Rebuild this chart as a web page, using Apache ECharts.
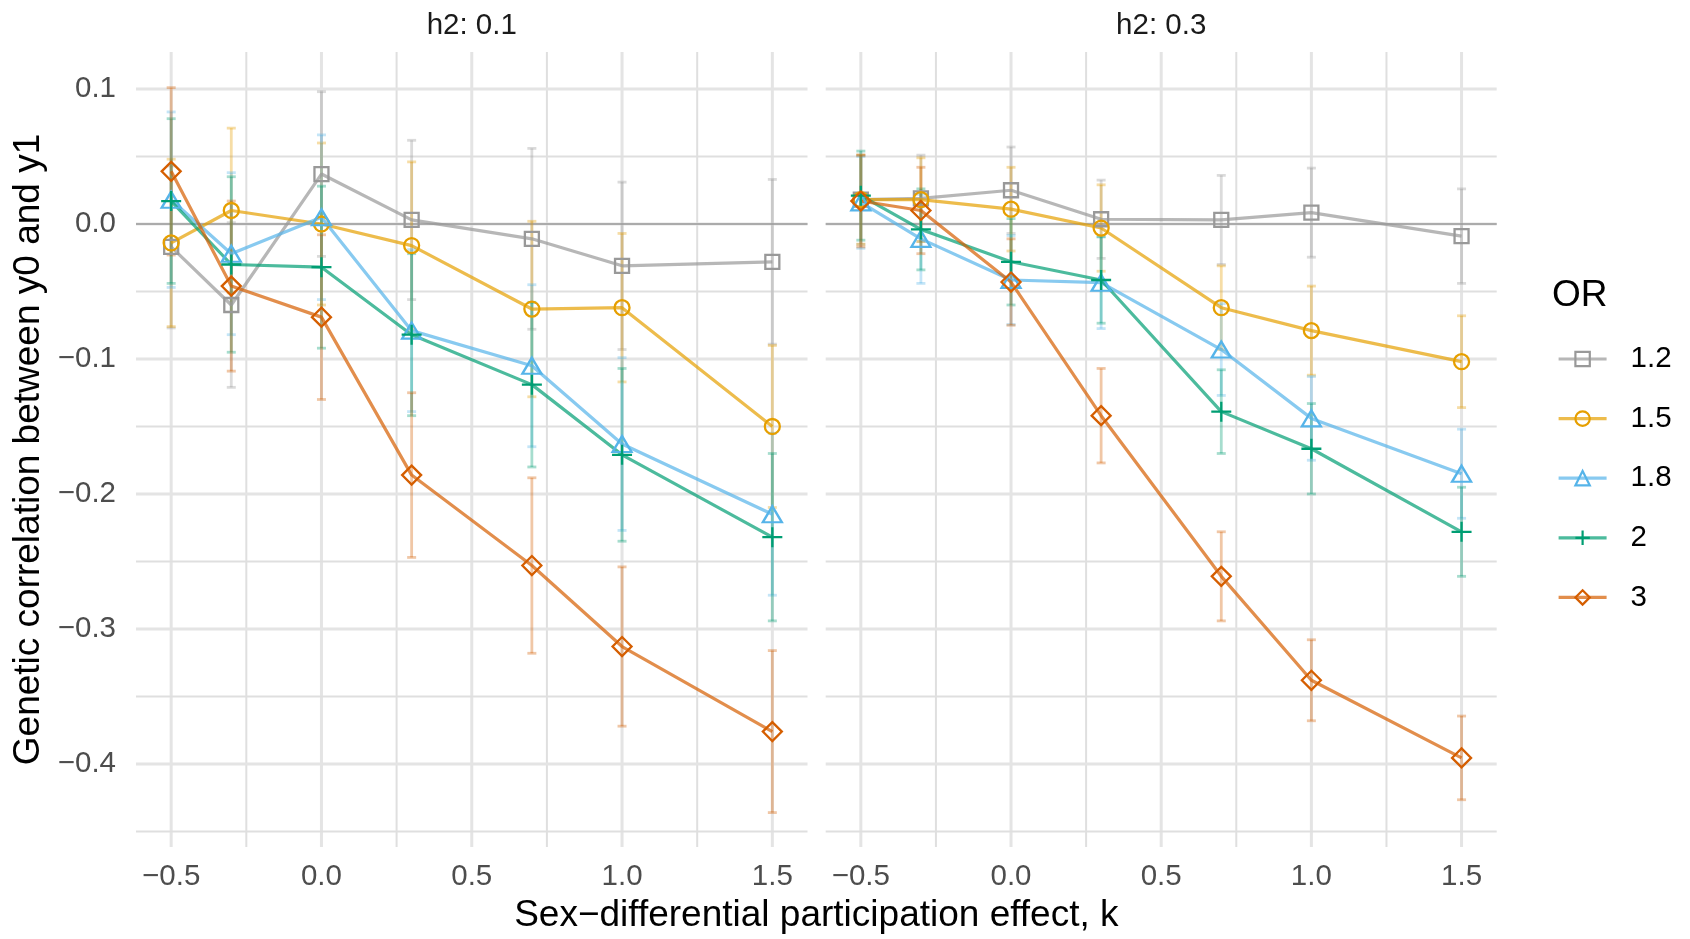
<!DOCTYPE html>
<html><head><meta charset="utf-8">
<script src="https://cdn.jsdelivr.net/npm/echarts@6/dist/echarts.min.js"></script>
<style>html,body{margin:0;padding:0;background:#fff}#c{width:1690px;height:939px}</style>
</head><body><div id="c"></div>
<script>
// ---------------- data ----------------
const kValues = [-0.5, -0.3, 0, 0.3, 0.7, 1.0, 1.5];
const orLevels = ['1.2', '1.5', '1.8', '2', '3'];
const facetTitles = ['h2: 0.1', 'h2: 0.3'];

// facet h2 = 0.1 : mean genetic correlation
const h01_or12 = [-0.017, -0.060, 0.037, 0.003, -0.011, -0.031, -0.028];
const h01_or15 = [-0.014, 0.010, 0.000, -0.016, -0.063, -0.062, -0.150];
const h01_or18 = [0.018, -0.022, 0.005, -0.079, -0.105, -0.163, -0.215];
const h01_or2  = [0.017, -0.030, -0.032, -0.082, -0.119, -0.171, -0.232];
const h01_or3  = [0.039, -0.046, -0.069, -0.186, -0.253, -0.313, -0.376];
// facet h2 = 0.1 : error-bar half widths
const h01_err12 = [0.060, 0.061, 0.061, 0.059, 0.067, 0.062, 0.061];
const h01_err15 = [0.062, 0.061, 0.060, 0.062, 0.065, 0.055, 0.060];
const h01_err18 = [0.065, 0.060, 0.061, 0.060, 0.060, 0.064, 0.060];
const h01_err2  = [0.061, 0.065, 0.060, 0.060, 0.061, 0.064, 0.062];
const h01_err3  = [0.062, 0.063, 0.061, 0.061, 0.065, 0.059, 0.060];

// facet h2 = 0.3 : mean genetic correlation
const h03_or12 = [0.018, 0.019, 0.025, 0.0035, 0.003, 0.0084, -0.009];
const h03_or15 = [0.018, 0.018, 0.011, -0.003, -0.062, -0.079, -0.102];
const h03_or18 = [0.016, -0.011, -0.0415, -0.0435, -0.093, -0.144, -0.185];
const h03_or2  = [0.021, -0.004, -0.028, -0.0415, -0.139, -0.1665, -0.228];
const h03_or3  = [0.017, 0.010, -0.043, -0.142, -0.261, -0.338, -0.3955];
// facet h2 = 0.3 : error-bar half widths
const h03_err12 = [0.033, 0.032, 0.032, 0.029, 0.033, 0.033, 0.035];
const h03_err15 = [0.033, 0.031, 0.031, 0.032, 0.031, 0.033, 0.034];
const h03_err18 = [0.034, 0.033, 0.033, 0.034, 0.034, 0.031, 0.033];
const h03_err2  = [0.033, 0.030, 0.032, 0.032, 0.031, 0.0335, 0.033];
const h03_err3  = [0.034, 0.032, 0.032, 0.035, 0.033, 0.030, 0.031];

// axis ticks / gridlines
const xMajorTicks = [-0.5, 0, 0.5, 1.0, 1.5];
const xMinorTicks = [-0.25, 0.25, 0.75, 1.25];
const yMajorTicks = [-0.4, -0.3, -0.2, -0.1, 0, 0.1];
const yMinorTicks = [-0.45, -0.35, -0.25, -0.15, -0.05, 0.05];
const zeroLine = [0];

const xTitle = 'Sex\u2212differential participation effect, k';
const yTitle = 'Genetic correlation between y0 and y1';
const legendTitle = 'OR';

// ---------------- styling ----------------
const FONT = '"Liberation Sans", Arial, Helvetica, sans-serif';
const colors = ['#999999', '#E69F00', '#56B4E9', '#009E73', '#D55E00'];
const symbols = ['rect', 'circle', 'triangle', 'path://M0,10L20,10M10,0L10,20', 'diamond'];
const symbolSizes = [14, 15, [19, 16], 20, [19, 19]];
function rgba(hex, a) {
  const n = parseInt(hex.slice(1), 16);
  return 'rgba(' + (n >> 16) + ',' + ((n >> 8) & 255) + ',' + (n & 255) + ',' + a + ')';
}
const facets = [
  { title: facetTitles[0], means: [h01_or12, h01_or15, h01_or18, h01_or2, h01_or3],
    errs: [h01_err12, h01_err15, h01_err18, h01_err2, h01_err3] },
  { title: facetTitles[1], means: [h03_or12, h03_or15, h03_or18, h03_or2, h03_or3],
    errs: [h03_err12, h03_err15, h03_err18, h03_err2, h03_err3] }
];
const grids = [
  { left: 136, top: 52, width: 671.5, height: 795 },
  { left: 825.7, top: 52, width: 671, height: 795 }
];
const X_MIN = -0.617, X_MAX = 1.617, Y_MIN = -0.4615, Y_MAX = 0.1274;

function fmt(v) {
  const s = Math.abs(v).toFixed(1);
  return v < -1e-9 ? '\u2212' + s : s;
}

// gridline specs: [value, kind] kind 0 vmajor,1 vminor,2 hmajor,3 hminor
const gridSpecs = [].concat(
  xMinorTicks.map(v => [v, 1]), xMajorTicks.map(v => [v, 0]),
  yMinorTicks.map(v => [v, 3]), yMajorTicks.map(v => [v, 2]));

function gridRender(params, api) {
  const v = api.value(0), kind = api.value(1);
  const cs = params.coordSys;
  const major = (kind === 0 || kind === 2);
  const style = { stroke: major ? '#e4e4e4' : '#dfdfdf', lineWidth: major ? 3 : 2 };
  if (kind < 2) {
    const x = api.coord([v, 0])[0];
    return { type: 'line', shape: { x1: x, y1: cs.y, x2: x, y2: cs.y + cs.height }, style };
  }
  const y = api.coord([0, v])[1];
  return { type: 'line', shape: { x1: cs.x, y1: y, x2: cs.x + cs.width, y2: y }, style };
}
function zeroRender(params, api) {
  const cs = params.coordSys;
  const y = api.coord([0, api.value(0)])[1];
  return { type: 'line', shape: { x1: cs.x, y1: y, x2: cs.x + cs.width, y2: y },
           style: { stroke: '#ababab', lineWidth: 2.2 } };
}
function errRender(color) {
  return function (params, api) {
    const x = api.value(0), lo = api.value(2), hi = api.value(3);
    const p1 = api.coord([x, lo]), p2 = api.coord([x, hi]);
    const c = 4.5;
    const style = { stroke: color, lineWidth: 2.8 };
    return { type: 'group', children: [
      { type: 'line', shape: { x1: p1[0], y1: p1[1], x2: p2[0], y2: p2[1] }, style },
      { type: 'line', shape: { x1: p1[0] - c, y1: p1[1], x2: p1[0] + c, y2: p1[1] }, style },
      { type: 'line', shape: { x1: p2[0] - c, y1: p2[1], x2: p2[0] + c, y2: p2[1] }, style }
    ] };
  };
}

const xAxes = [], yAxes = [], series = [], graphics = [];
facets.forEach((f, gi) => {
  xAxes.push({
    type: 'value', gridIndex: gi, min: X_MIN, max: X_MAX,
    axisLine: { show: false }, axisTick: { show: false }, splitLine: { show: false },
    axisLabel: { customValues: xMajorTicks, formatter: fmt, fontSize: 29.5, color: '#4d4d4d',
                 fontFamily: FONT, margin: 15 }
  });
  yAxes.push({
    type: 'value', gridIndex: gi, min: Y_MIN, max: Y_MAX,
    axisLine: { show: false }, axisTick: { show: false }, splitLine: { show: false },
    axisLabel: { show: gi === 0, customValues: yMajorTicks, formatter: fmt, fontSize: 29.5,
                 color: '#4d4d4d', fontFamily: FONT, margin: 20 }
  });
  series.push({ type: 'custom', name: 'grid' + gi, xAxisIndex: gi, yAxisIndex: gi, z: 1, silent: true,
    clip: false, data: gridSpecs, renderItem: gridRender, animation: false });
  series.push({ type: 'custom', name: 'zero' + gi, xAxisIndex: gi, yAxisIndex: gi, z: 2, silent: true,
    data: zeroLine.map(v => [v]), encode: { y: 0 }, renderItem: zeroRender, animation: false });
  // error bars
  orLevels.forEach((or, si) => {
    series.push({ type: 'custom', name: 'err ' + or + ' ' + gi, xAxisIndex: gi, yAxisIndex: gi, z: 3,
      silent: true, animation: false,
      data: kValues.map((k, j) => [k, f.means[si][j], f.means[si][j] - f.errs[si][j], f.means[si][j] + f.errs[si][j]]),
      encode: { x: 0, y: 1 }, renderItem: errRender(rgba(colors[si], 0.35)) });
  });
  // lines
  orLevels.forEach((or, si) => {
    series.push({ type: 'line', name: or, xAxisIndex: gi, yAxisIndex: gi, z: 4, silent: true,
      animation: false, showSymbol: false, symbol: symbols[si], symbolSize: symbolSizes[si],
      data: kValues.map((k, j) => [k, f.means[si][j]]),
      lineStyle: { color: rgba(colors[si], 0.7), width: 3.2 },
      itemStyle: { color: 'rgba(0,0,0,0)', borderColor: colors[si], borderWidth: 2 },
      emphasis: { disabled: true } });
  });
  // points
  orLevels.forEach((or, si) => {
    series.push({ type: 'scatter', name: or, xAxisIndex: gi, yAxisIndex: gi, z: 5, silent: true,
      animation: false, symbol: symbols[si], symbolSize: symbolSizes[si],
      data: kValues.map((k, j) => [k, f.means[si][j]]),
      itemStyle: { color: 'rgba(0,0,0,0)', borderColor: colors[si], borderWidth: 2.3, opacity: 1 },
      emphasis: { disabled: true } });
  });
  graphics.push({ type: 'text', x: grids[gi].left + grids[gi].width / 2, y: 26, silent: true,
    style: { text: f.title, fontSize: 29.5, fontFamily: FONT, fill: '#1a1a1a', align: 'center', verticalAlign: 'middle' } });
});

graphics.push({ type: 'text', x: (grids[0].left + grids[1].left + grids[1].width) / 2, y: 916, silent: true,
  style: { text: xTitle, fontSize: 37, fontFamily: FONT, fill: '#000', align: 'center', verticalAlign: 'middle' } });
graphics.push({ type: 'text', x: 29, y: grids[0].top + grids[0].height / 2, rotation: Math.PI / 2, silent: true,
  style: { text: yTitle, fontSize: 37, fontFamily: FONT, fill: '#000', align: 'center', verticalAlign: 'middle' } });
graphics.push({ type: 'text', x: 1552, y: 296, silent: true,
  style: { text: legendTitle, fontSize: 37, fontFamily: FONT, fill: '#000', align: 'left', verticalAlign: 'middle' } });

const chart = echarts.init(document.getElementById('c'), null, { renderer: 'canvas' });
chart.setOption({
  backgroundColor: '#ffffff',
  animation: false,
  grid: grids.map(g => Object.assign({ containLabel: false, outerBoundsMode: 'none' }, g)),
  xAxis: xAxes,
  yAxis: yAxes,
  legend: {
    orient: 'vertical', left: 1552, top: 339, itemWidth: 48, itemHeight: 18, itemGap: 29.6,
    selectedMode: false,
    textStyle: { fontSize: 29.5, color: '#000', fontFamily: FONT, padding: [0, 0, 0, 19], lineHeight: 30 },
    data: orLevels.map((n, i) => ({ name: n,
      itemStyle: { color: 'rgba(0,0,0,0)', borderColor: colors[i], borderWidth: 2.2 },
      lineStyle: { color: rgba(colors[i], 0.7), width: 3.2 } }))
  },
  graphic: graphics,
  series: series
});
</script>
</body></html>
